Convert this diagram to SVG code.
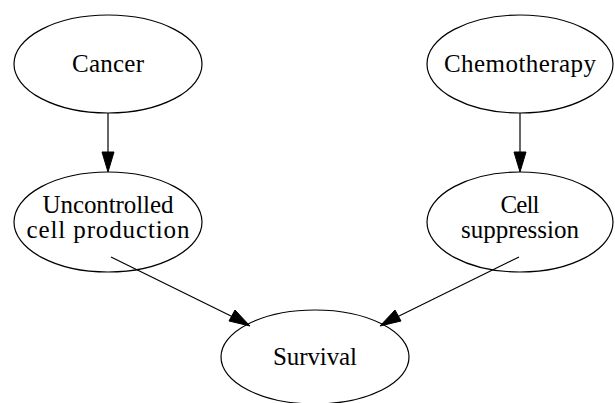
<svg xmlns="http://www.w3.org/2000/svg" width="615" height="403" viewBox="0 0 615 403">
<style>
.node ellipse{fill:none;stroke:#000;stroke-width:1.2}
.node text{font-family:"Liberation Serif","DejaVu Serif",serif;font-size:25px;fill:#000;text-anchor:middle}
.edge line{stroke:#000;stroke-width:1.2}
.edge polygon{fill:#000;stroke:#000;stroke-width:1}
</style>
<rect width="615" height="403" fill="#fff"/>
<g id="cancer" class="node">
<ellipse cx="108" cy="64" rx="94" ry="49"/>
<text x="108" y="72" textLength="72" lengthAdjust="spacing">Cancer</text>
</g>
<g id="chemotherapy" class="node">
<ellipse cx="520" cy="64" rx="93" ry="49"/>
<text x="520" y="72" textLength="152" lengthAdjust="spacing">Chemotherapy</text>
</g>
<g id="uncontrolled" class="node">
<ellipse cx="108" cy="222" rx="94" ry="50"/>
<text x="108" y="213" textLength="131" lengthAdjust="spacing">Uncontrolled</text>
<text x="108" y="238" textLength="163" lengthAdjust="spacing">cell production</text>
</g>
<g id="cellsuppression" class="node">
<ellipse cx="520" cy="222" rx="93" ry="50"/>
<text x="520" y="213" textLength="39" lengthAdjust="spacing">Cell</text>
<text x="520" y="238" textLength="118" lengthAdjust="spacing">suppression</text>
</g>
<g id="survival" class="node">
<ellipse cx="315" cy="357" rx="94" ry="47"/>
<text x="315" y="365" textLength="84" lengthAdjust="spacing">Survival</text>
</g>
<g id="edges" class="edge">
<line x1="108" y1="113" x2="108" y2="153"/>
<polygon points="108,172 102,152 114,152"/>
<line x1="520" y1="113" x2="520" y2="153"/>
<polygon points="520,172 514,152 526,152"/>
<line x1="111" y1="257" x2="233" y2="317"/>
<polygon points="250,326 229,321 235,310"/>
<line x1="519" y1="257" x2="397" y2="317"/>
<polygon points="380,326 395,310 401,321"/>
</g>
</svg>
